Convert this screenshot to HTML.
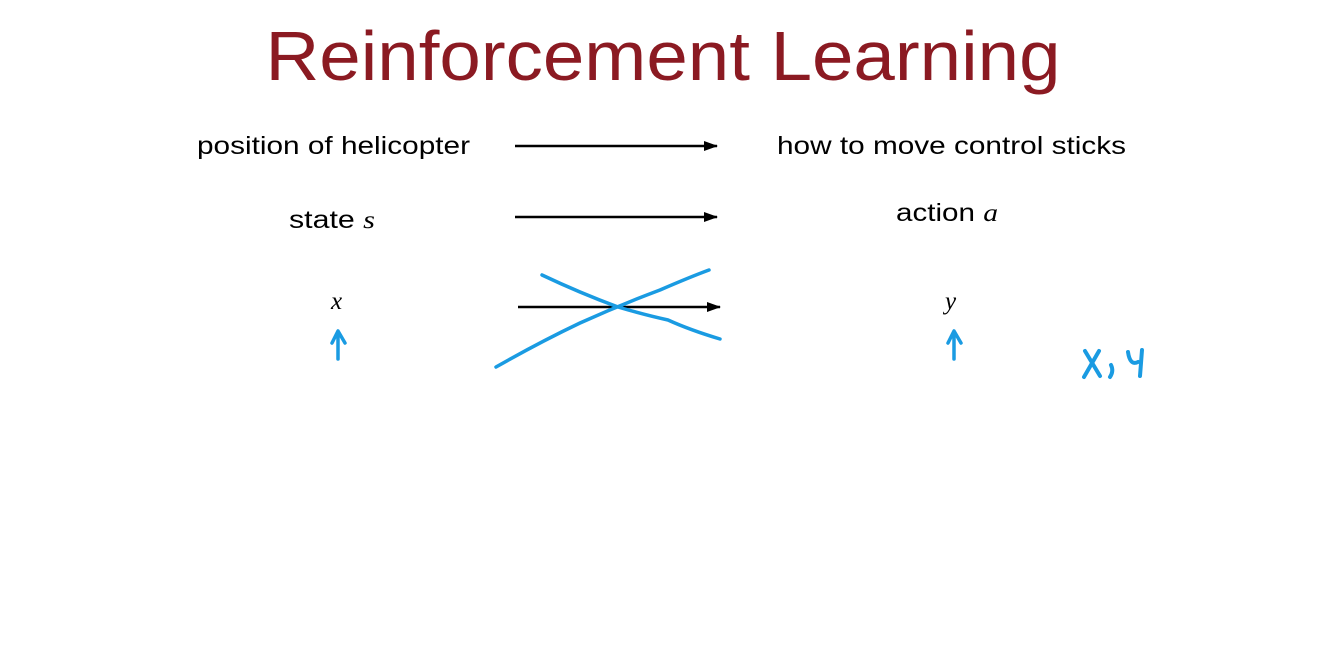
<!DOCTYPE html>
<html><head><meta charset="utf-8"><style>
html,body{margin:0;padding:0;background:#fff;}
svg{display:block;}
</style></head><body>
<svg width="1323" height="651" viewBox="0 0 1323 651" xmlns="http://www.w3.org/2000/svg">
<defs>
<marker id="ah" markerWidth="14" markerHeight="12" refX="13" refY="6" orient="auto" markerUnits="userSpaceOnUse">
<path d="M0,1 L14,6 L0,11 Z" fill="#000"/>
</marker>
</defs>
<rect width="1323" height="651" fill="#fff"/>
<text x="663" y="80" text-anchor="middle" font-family="Liberation Sans, sans-serif" font-size="70" fill="#8b1a22" textLength="795" lengthAdjust="spacingAndGlyphs">Reinforcement Learning</text>
<g font-family="Liberation Sans, sans-serif" font-size="25" fill="#000">
<text x="197" y="154" textLength="273" lengthAdjust="spacingAndGlyphs">position of helicopter</text>
<text x="777" y="154" textLength="349" lengthAdjust="spacingAndGlyphs">how to move control sticks</text>
<text x="289" y="228" textLength="86" lengthAdjust="spacingAndGlyphs">state <tspan font-family="Liberation Serif, serif" font-style="italic">s</tspan></text>
<text x="896" y="221" textLength="102" lengthAdjust="spacingAndGlyphs">action <tspan font-family="Liberation Serif, serif" font-style="italic">a</tspan></text>
</g>
<g font-family="Liberation Serif, serif" font-style="italic" font-size="25" fill="#000">
<text x="331" y="309">x</text>
<text x="945" y="309">y</text>
</g>
<g stroke="#000" stroke-width="2.5" marker-end="url(#ah)">
<line x1="515" y1="146" x2="717" y2="146"/>
<line x1="515" y1="217" x2="717" y2="217"/>
<line x1="518" y1="307" x2="720" y2="307"/>
</g>
<g stroke="#1a9be2" stroke-width="3.5" fill="none" stroke-linecap="round" stroke-linejoin="round">
<path d="M496,367 Q540,342 580,323 Q620,305 660,290 Q690,277 709,270"/>
<path d="M542,275 Q580,293 618,307 Q645,315 668,320 Q690,330 720,339"/>
<path d="M338,359 L338,332 M332,343 L338,331 L345,343"/>
<path d="M954,359 L954,332 M948,343 L954,331 L961,343"/>
<path d="M1085,351 L1100,376 M1099,351 L1084,377" stroke-width="4"/>
<path d="M1111,365 Q1114,371 1110,377" stroke-width="4"/>
<path d="M1128,352 Q1130,366 1138,362 M1142,350 L1140,376" stroke-width="4"/>
</g>
</svg>
</body></html>
